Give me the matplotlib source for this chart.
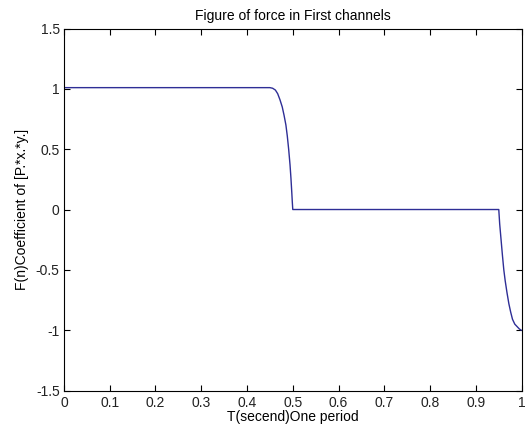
import matplotlib
matplotlib.use("Agg")
import matplotlib.pyplot as plt
from matplotlib.ticker import FixedLocator, FixedFormatter

# curve: (time, force coefficient)
t_first = [0.0, 0.450, 0.456, 0.462, 0.467, 0.472, 0.477, 0.481, 0.485,
           0.488, 0.491, 0.494, 0.496, 0.498, 0.499, 0.500]
f_first = [1.01, 1.01, 1.005, 0.99, 0.96, 0.91, 0.85, 0.78, 0.70,
           0.61, 0.50, 0.37, 0.26, 0.13, 0.06, 0.0]
t_second = [0.500, 0.950, 0.952, 0.955, 0.958, 0.961, 0.964, 0.968, 0.972,
            0.976, 0.980, 0.985, 0.990, 0.995, 0.999]
f_second = [0.0, 0.0, -0.12, -0.25, -0.38, -0.50, -0.59, -0.69, -0.78,
            -0.85, -0.91, -0.95, -0.97, -0.99, -1.0]

x_ticks = [0, 0.1, 0.2, 0.3, 0.4, 0.5, 0.6, 0.7, 0.8, 0.9, 1]
x_labels = ["0", "0.1", "0.2", "0.3", "0.4", "0.5", "0.6", "0.7", "0.8", "0.9", "1"]
y_ticks = [-1.5, -1, -0.5, 0, 0.5, 1, 1.5]
y_labels = ["-1.5", "-1", "-0.5", "0", "0.5", "1", "1.5"]

plt.rcParams['font.family'] = ['Liberation Sans', 'DejaVu Sans']
plt.rcParams['font.size'] = 10

fig = plt.figure(figsize=(5.28, 4.32), dpi=100)
ax = fig.add_axes([0.121, 0.096, 0.867, 0.838])

ax.plot(t_first + t_second, f_first + f_second, color='#2e2e96', linewidth=1.0)

ax.set_xlim(0, 1)
ax.set_ylim(-1.5, 1.5)
ax.xaxis.set_major_locator(FixedLocator(x_ticks))
ax.xaxis.set_major_formatter(FixedFormatter(x_labels))
ax.yaxis.set_major_locator(FixedLocator(y_ticks))
ax.yaxis.set_major_formatter(FixedFormatter(y_labels))
ax.tick_params(direction='in', length=4, width=0.8, top=True, right=True,
               colors='black', labelcolor='#222222')
ax.tick_params(axis='x', pad=4)
ax.tick_params(axis='y', pad=3)
for s in ax.spines.values():
    s.set_linewidth(0.8)

ax.set_title("Figure of force in First channels", fontsize=10, pad=6)
ax.set_xlabel("T(secend)One period", labelpad=0)
ax.set_ylabel("F(n)Coefficient of [P.*x.*y.]", labelpad=5)

fig.savefig("out.png", dpi=100)
